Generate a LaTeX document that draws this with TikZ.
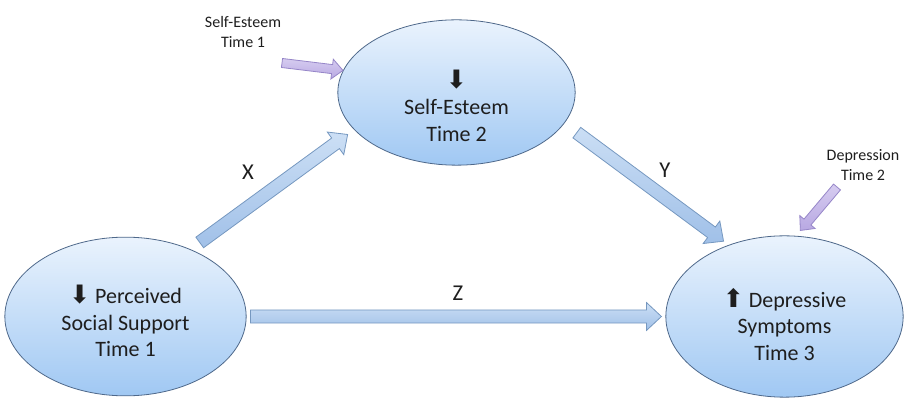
\documentclass[tikz,border=0pt]{standalone}
\usepackage{fontspec}
\setmainfont{Carlito}
\newfontfamily\arrowfont{DejaVu Sans}
\usetikzlibrary{calc,shapes.geometric}

\definecolor{ovaltop}{RGB}{234,243,253}
\definecolor{ovalbot}{RGB}{160,200,243}
\definecolor{ovalline}{RGB}{78,104,138}
\definecolor{pathtop}{RGB}{204,223,245}
\definecolor{pathbot}{RGB}{160,192,232}
\definecolor{pathline}{RGB}{118,152,192}
\definecolor{covtop}{RGB}{214,204,240}
\definecolor{covbot}{RGB}{184,168,226}
\definecolor{covline}{RGB}{150,134,200}
\definecolor{txt}{RGB}{30,30,30}

\newcommand{\downmark}{{\arrowfont\fontsize{19}{19}\selectfont ⬇}}
\newcommand{\upmark}{{\arrowfont\fontsize{19}{19}\selectfont ⬆}}

\begin{document}
\begin{tikzpicture}[x=0.75pt,y=-0.75pt,
    % ovals, notes and the fat arrows
    oval/.style={ellipse,draw=ovalline,line width=0.6pt,top color=ovaltop,bottom color=ovalbot,inner sep=0pt},
    ovaltext/.style={align=center,font=\fontsize{16.5}{20}\selectfont,text=txt,inner sep=0pt},
    note/.style={align=center,font=\fontsize{12}{15.5}\selectfont,text=txt,inner sep=0pt},
    coef/.style={font=\fontsize{17}{20}\selectfont,text=txt},
    block arrow/.style n args={5}{to path={
      ($(\tikztostart)!#1!(\tikztotarget)$) coordinate (ba-s)
      ($(\tikztotarget)!#2!(\tikztostart)$) coordinate (ba-t)
      ($(ba-t)!#5!(ba-s)$) coordinate (ba-h)
      ($(ba-s)!#3!90:(ba-h)$) -- ($(ba-h)!#3!-90:(ba-s)$) -- ($(ba-h)!#4!-90:(ba-s)$)
      -- (ba-t) -- ($(ba-h)!#4!90:(ba-s)$) -- ($(ba-h)!#3!90:(ba-s)$)
      -- ($(ba-s)!#3!-90:(ba-h)$) -- cycle}},
    path arrow/.style 2 args={block arrow={#1}{#2}{4.9pt}{10.5pt}{11.25pt},
      draw=pathline,line width=0.6pt,top color=pathtop,bottom color=pathbot},
    cov arrow/.style 2 args={block arrow={#1}{#2}{3.4pt}{7.5pt}{8.25pt},
      draw=covline,line width=0.6pt,top color=covtop,bottom color=covbot}]

    \useasboundingbox (0,0) rectangle (904,402);

    \node [oval,minimum width=181pt,minimum height=119pt,
      label={[ovaltext,yshift=-3.4pt]center:{\downmark\ Perceived\\Social Support\\Time 1}}] (ps) at (125.5,316.5) {};
    \node [oval,minimum width=178pt,minimum height=109pt,
      label={[ovaltext,yshift=-10pt]center:{\downmark\\Self-Esteem\\Time 2}}] (se) at (456.5,92.5) {};
    \node [oval,minimum width=178pt,minimum height=121pt,
      label={[ovaltext,yshift=-6pt]center:{\upmark\ Depressive\\Symptoms\\Time 3}}] (ds) at (784.5,316.5) {};

    \node [note] (se1) at (243,32) {Self-Esteem\\Time 1};
    \node [note] (dep2) at (863,165) {Depression\\Time 2};
    \coordinate (se1tail) at (282,63);
    \coordinate (dep2tail) at (837,187);

    \node [coef] (lx) at (248,172) {X};
    \node [coef] (ly) at (665,170) {Y};
    \node [coef] (lz) at (458,293) {Z};

    \path (ps.46.5) edge [path arrow={8.6pt}{6pt}] (se.200);
    \path (se.-16.6) edge [path arrow={11.6pt}{4.7pt}] (ds.128.5);
    \path (ps.east) edge [path arrow={3pt}{3pt}] (ds.west);

    \path (se1tail) edge [cov arrow={0pt}{0pt}] (se.169);
    \path (dep2tail) edge [cov arrow={0pt}{5.25pt}] (ds.82.5);

\end{tikzpicture}
\end{document}
